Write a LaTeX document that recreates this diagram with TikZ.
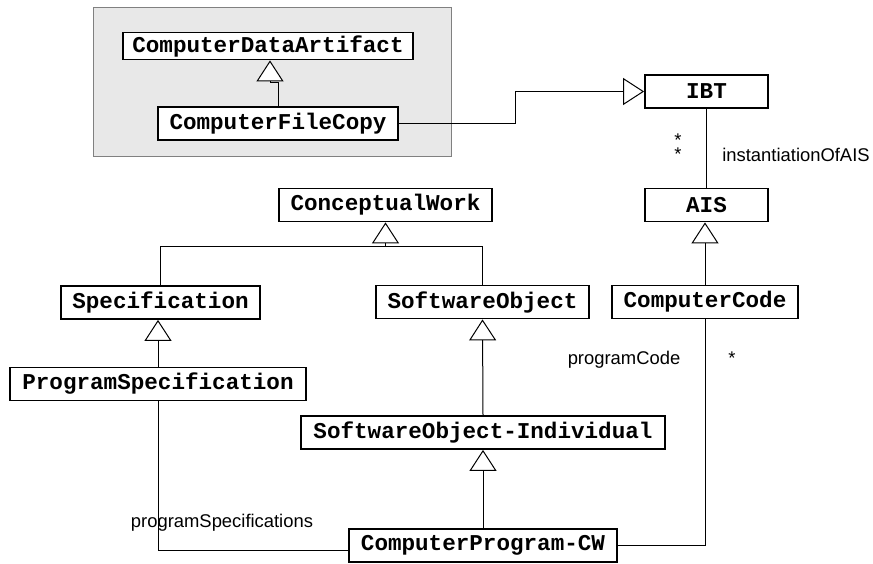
\documentclass[tikz,border=0pt]{standalone}
\usepackage{fontspec}
\setmainfont{Liberation Sans}
\setmonofont{Liberation Mono}
\usetikzlibrary{arrows.meta}
\begin{document}
\begin{tikzpicture}[x=0.5pt,y=-0.5pt,line width=0.5pt,
    cls/.style={draw, line width=0.9pt, fill=white, inner sep=0pt, minimum height=16.5pt,
      font=\fontsize{11.3}{13}\selectfont\ttfamily\bfseries},
    gen/.style={-{Triangle[length=10.5pt, width=13.5pt, fill=white]}},
    lbl/.style={inner sep=0pt, font=\fontsize{9.2}{11}\selectfont}]
  \useasboundingbox[fill=white] (0,0) rectangle (873,563);
  \draw[gray, fill=black!9] (93,7) rectangle (451,156);

  \node[cls, minimum width=145pt, minimum height=13.5pt] (cda) at (268,46) {ComputerDataArtifact};
  \node[cls, minimum width=120pt] (cfc) at (278,123.5) {ComputerFileCopy};
  \node[cls, minimum width=61.5pt] (ibt) at (706.5,91.5) {IBT};
  \node[cls, minimum width=61.5pt] (ais) at (706.5,205) {AIS};
  \node[cls, minimum width=106.5pt] (cw) at (385.5,205) {ConceptualWork};
  \node[cls, minimum width=99.5pt] (spec) at (160.5,302.5) {Specification};
  \node[cls, minimum width=106.5pt] (so) at (482.5,302) {SoftwareObject};
  \node[cls, minimum width=93pt] (cc) at (705,302) {ComputerCode};
  \node[cls, minimum width=148pt] (ps) at (158,384) {ProgramSpecification};
  \node[cls, minimum width=182pt] (soi) at (483,432.5) {SoftwareObject-Individual};
  \node[cls, minimum width=134pt] (cpcw) at (483,545.5) {ComputerProgram-CW};

  % generalisations
  \draw[gen] (cfc.north) -- ++(0,-24) -| ([xshift=1pt]cda.south);
  \draw[gen] (cfc.east) -- ++(117,0) |- (ibt.west);
  \draw[gen] (cc.north) -- (cc.north |- ais.south);
  \coordinate (cwjoin) at ([yshift=-12pt]cw.south);
  \draw (spec.north) |- (cwjoin) -| (so.north);
  \draw[gen] (cwjoin) -- (cw.south);
  \draw[gen] (ps.north) -- (ps.north |- spec.south);
  \draw[gen] (soi.north) -- (so.south);
  \draw[gen] (cpcw.north) -- (soi.south);

  % associations
  \draw (ibt.south) -- (ais.north);
  \draw ([yshift=-2.5pt]cpcw.west) -| (ps.south);
  \draw (cpcw.east) -| (cc.south);

  \node[lbl] (isoa) at (796,155) {instantiationOfAIS};
  \node[lbl, align=center, font=\fontsize{9.2}{5.6}\selectfont] (ibtm) at (678,147) {*\\*};
  \node[lbl] (pspec) at (222,523) {programSpecifications};
  \node[lbl] (pcode) at (624,360) {programCode};
  \node[lbl] (pcodem) at (732,358) {*};
\end{tikzpicture}
\end{document}
